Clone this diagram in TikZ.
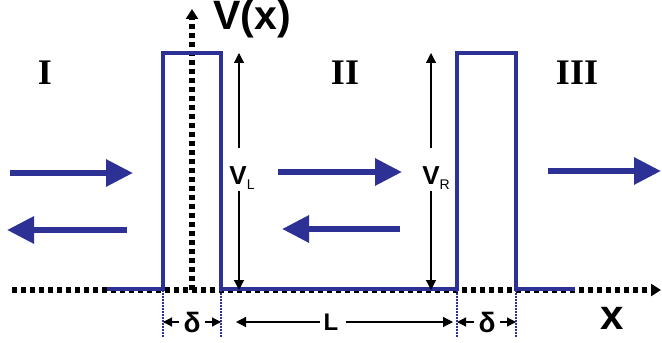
\documentclass[tikz,border=0pt]{standalone}
\usepackage{fontspec}
\setmainfont{Liberation Serif}
\newfontfamily\arialfont{Liberation Sans}
\usetikzlibrary{arrows.meta,calc}
\definecolor{barrierblue}{RGB}{45,48,148}

\begin{document}
\begin{tikzpicture}[x=0.5pt,y=-0.5pt]
\tikzstyle{axis line}=[line width=2.6pt,dash pattern=on 2.4pt off 2.1pt,-{Triangle[length=5pt,width=6pt]}]
\tikzstyle{barrier line}=[barrierblue,line width=2pt]
\tikzstyle{wave arrow}=[barrierblue,line width=3pt,-{Triangle[length=13.5pt,width=13pt]}]
\tikzstyle{height arrow}=[line width=0.6pt,-{Triangle[length=5pt,width=5pt]}]
\tikzstyle{size arrow}=[line width=0.6pt,-{Triangle[length=4.5pt,width=4.5pt]}]
\tikzstyle{dim line}=[barrierblue,line width=0.8pt,dash pattern=on 0.8pt off 0.7pt]
\tikzstyle{numeral}=[font=\bfseries\fontsize{18}{18}\selectfont]
\tikzstyle{sans label}=[font=\arialfont\bfseries\fontsize{#1}{#1}\selectfont,inner sep=0pt]

\useasboundingbox (0,0) rectangle (662,342);

% corners of the two barriers
\coordinate (0) at (192,290);
\coordinate (1) at (163,290);
\coordinate (2) at (221,290);
\coordinate (3) at (457,290);
\coordinate (4) at (516,290);
\coordinate (top) at (192,53);

% axes
\draw[axis line] (12,290) -- (661,290);
\draw[axis line] (0) -- (192,9);

% potential
\draw[barrier line] (107,289) -- ($(1)+(0,-1)$) -- (1 |- top) -- (2 |- top) -- ($(2)+(0,-1)$)
  -- ($(3)+(0,-1)$) -- (3 |- top) -- (4 |- top) -- ($(4)+(0,-1)$) -- (575,289);

% dimension lines
\foreach \c in {1,2,3,4} \draw[dim line] (\c) -- ($(\c)+(0,47)$);

% labels
\node[sans label=20.5] (vx) at (252,19) {V(x)};
\node[numeral] (r1) at (45,73) {I};
\node[numeral] (r2) at (345,73) {II};
\node[numeral] (r3) at (577,73) {III};
\node[sans label=21] (xl) at (612,318) {x};

% barrier heights
\node[inner sep=0pt] (vl) at (242,178) {{\arialfont\bfseries\fontsize{13}{13}\selectfont V}{\arialfont\fontsize{7}{7}\selectfont\raisebox{-2.5pt}{L}}};
\node[inner sep=0pt] (vr) at (436,178) {{\arialfont\bfseries\fontsize{13}{13}\selectfont V}{\arialfont\fontsize{7}{7}\selectfont\raisebox{-2.5pt}{R}}};
\coordinate (vlu) at (239,148);
\coordinate (vld) at (239,191);
\coordinate (vru) at (431,148);
\coordinate (vrd) at (431,191);
\draw[height arrow] (vlu) -- (vlu |- top);
\draw[height arrow] (vld) -- (vld |- 2);
\draw[height arrow] (vru) -- (vru |- top);
\draw[height arrow] (vrd) -- (vrd |- 3);

% widths
\node[sans label=14] (d1) at (192,322) {δ};
\node[sans label=14] (d2) at (487,322) {δ};
\node[sans label=12] (ll) at (331,322) {L};
\draw[size arrow] ([xshift=-2pt]d1.west) -- (d1.west -| 1);
\draw[size arrow] ([xshift=2pt]d1.east) -- (d1.east -| 2);
\draw[size arrow] ([xshift=-2pt]d2.west) -- (d2.west -| 3);
\draw[size arrow] ([xshift=2pt]d2.east) -- (d2.east -| 4);
\draw[height arrow,shorten <=1.5pt,shorten >=7.5pt] (ll.west) -- (ll.west -| 2);
\draw[height arrow,shorten <=3.5pt,shorten >=2pt] (ll.east) -- (ll.east -| 3);

% incoming, reflected and transmitted waves
\draw[wave arrow] (10,173) -- (133,173);
\draw[wave arrow] (127,230) -- (7,230);
\draw[wave arrow] (278,172) -- (402,172);
\draw[wave arrow] (400,229) -- (282,229);
\draw[wave arrow] (548,171) -- (661,171);

\end{tikzpicture}
\end{document}
